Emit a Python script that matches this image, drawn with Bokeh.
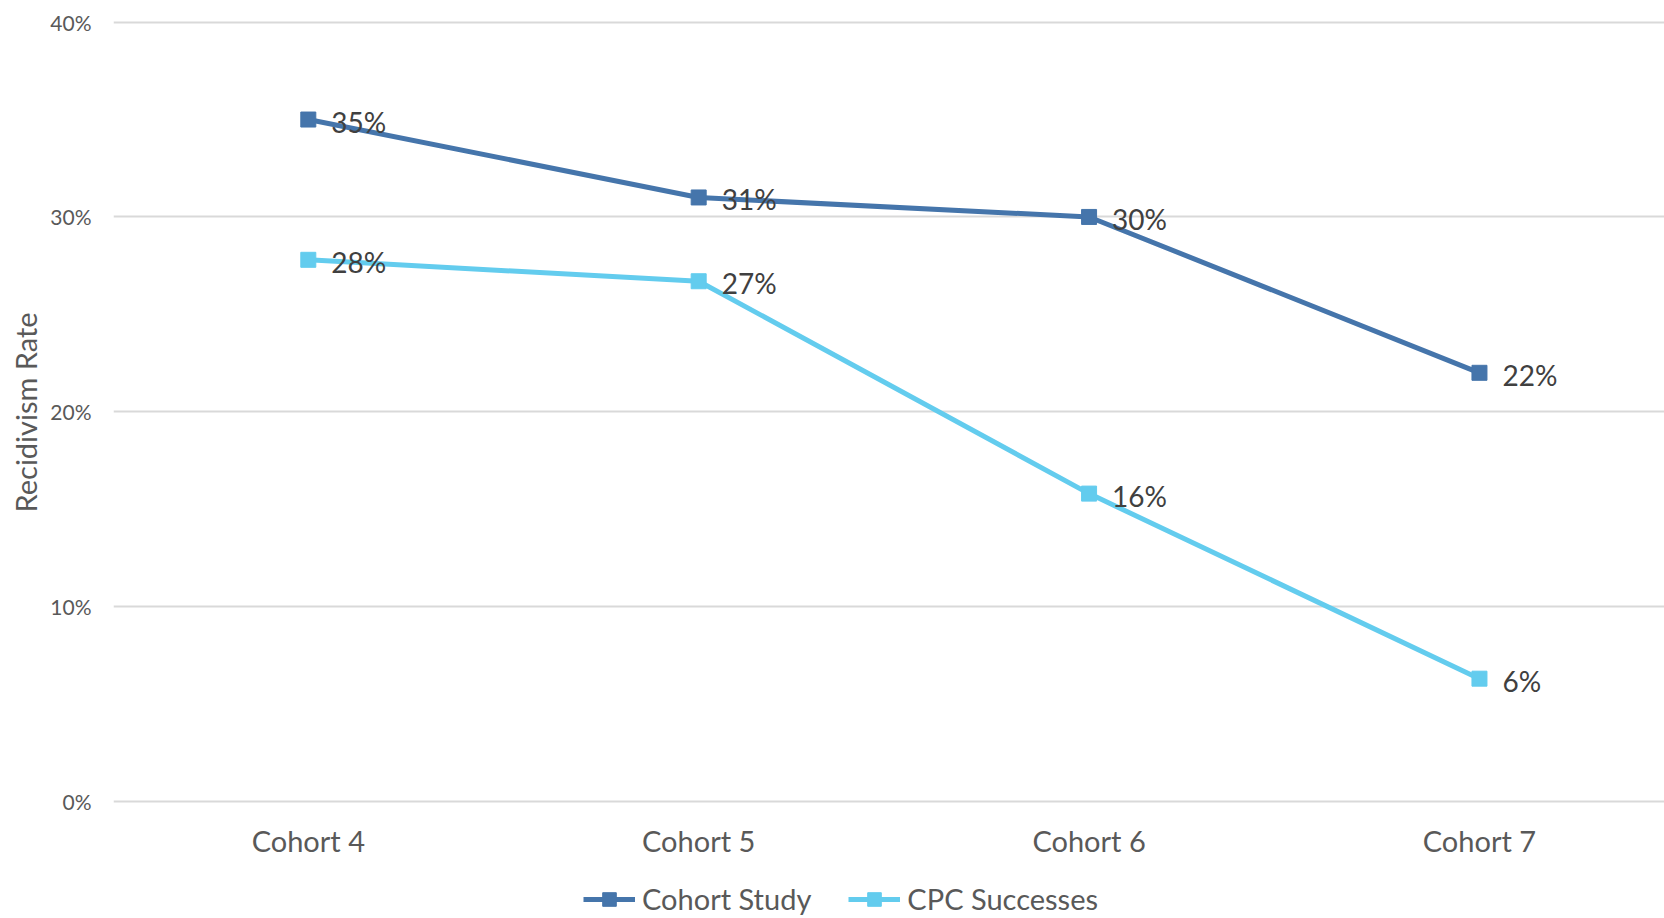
from bokeh.plotting import figure
from bokeh.models import (ColumnDataSource, Range1d, FixedTicker, NumeralTickFormatter,
                          Legend, LegendItem, Title)
from bokeh.embed import file_html
from bokeh.resources import INLINE
from bokeh.core.properties import value

categories = ["Cohort 4", "Cohort 5", "Cohort 6", "Cohort 7"]
cohort_study = [0.350, 0.310, 0.300, 0.220]
cpc_successes = [0.278, 0.267, 0.158, 0.063]
y_ticks = [0.0, 0.1, 0.2, 0.3, 0.4]

FONT = "Lato"
DARK = "#4575AB"
LIGHT = "#63CCEE"

xs = list(range(len(categories)))

p = figure(width=1664, height=918, output_backend="svg", toolbar_location=None,
           x_range=Range1d(-0.499, 3.474), y_range=Range1d(-0.0601, 0.4111),
           min_border_left=113, min_border_right=0, min_border_top=0, min_border_bottom=0)
p.outline_line_color = None
p.background_fill_color = "white"

src1 = ColumnDataSource(dict(x=xs, y=cohort_study,
                             lbl=[f"{round(v*100)}%" for v in cohort_study]))
src2 = ColumnDataSource(dict(x=xs, y=cpc_successes,
                             lbl=[f"{round(v*100)}%" for v in cpc_successes]))

l1 = p.line("x", "y", source=src1, line_color=DARK, line_width=5)
m1 = p.scatter("x", "y", source=src1, marker="square", size=15,
               fill_color=DARK, line_color=DARK)
l2 = p.line("x", "y", source=src2, line_color=LIGHT, line_width=5)
m2 = p.scatter("x", "y", source=src2, marker="square", size=15,
               fill_color=LIGHT, line_color=LIGHT)

for s in (src1, src2):
    p.text("x", "y", text="lbl", source=s, x_offset=23, y_offset=2,
           text_font=value(FONT), text_font_size="28px", text_color="#404040",
           text_align="left", text_baseline="middle")

# axes
p.xaxis.fixed_location = 0
p.xaxis.ticker = FixedTicker(ticks=xs)
p.xaxis.major_label_overrides = {i: c for i, c in enumerate(categories)}
p.xaxis.major_label_text_font = FONT
p.xaxis.major_label_text_font_size = "29px"
p.xaxis.major_label_text_color = "#595959"
p.xaxis.major_label_standoff = 22
p.xaxis.major_tick_out = 0
p.xaxis.major_tick_in = 0
p.xaxis.axis_line_color = None
p.xaxis.major_tick_line_color = None
p.xaxis.minor_tick_line_color = None

p.yaxis.ticker = FixedTicker(ticks=y_ticks)
p.yaxis.formatter = NumeralTickFormatter(format="0%")
p.yaxis.major_label_text_font = FONT
p.yaxis.major_label_text_font_size = "21px"
p.yaxis.major_label_text_color = "#595959"
p.yaxis.major_label_standoff = 22
p.yaxis.major_tick_out = 0
p.yaxis.major_tick_in = 0
p.yaxis.axis_line_color = None
p.yaxis.major_tick_line_color = None
p.yaxis.minor_tick_line_color = None

p.add_layout(Title(text="Recidivism Rate", align="left", offset=406, standoff=10,
                   text_font=FONT, text_font_size="29px", text_font_style="normal",
                   text_color="#595959"), "left")

p.xgrid.grid_line_color = None
p.ygrid.grid_line_color = "#D9D9D9"
p.ygrid.grid_line_width = 2

legend = Legend(items=[LegendItem(label="Cohort Study", renderers=[l1, m1]),
                       LegendItem(label="CPC Successes", renderers=[l2, m2])],
                orientation="horizontal", location=(470, 2),
                glyph_width=52, glyph_height=34, label_height=34,
                label_standoff=7, spacing=37,
                padding=0, margin=0, border_line_color=None,
                background_fill_alpha=0,
                label_text_font=FONT, label_text_font_size="29px",
                label_text_color="#595959")
p.add_layout(legend, "center")

open("out.html", "w").write(file_html(p, INLINE))
